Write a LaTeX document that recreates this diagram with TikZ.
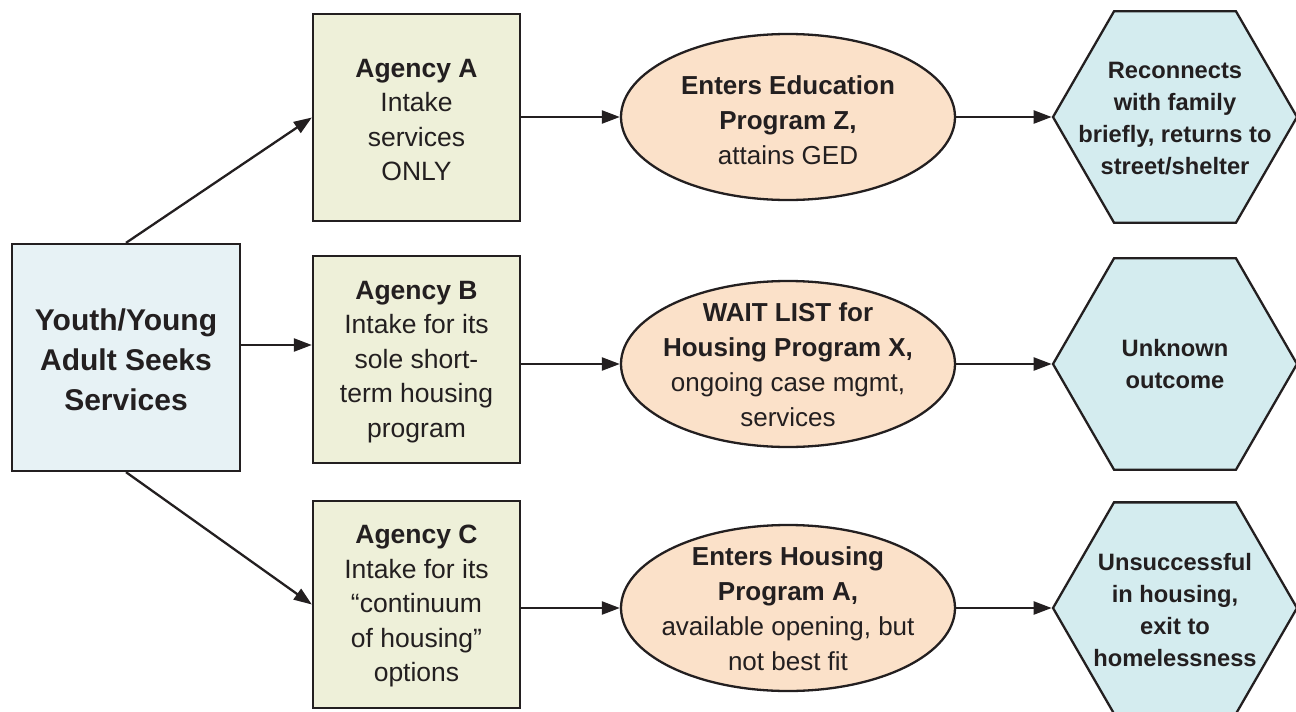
\documentclass[tikz,border=0pt]{standalone}
\usepackage{fontspec}
\setmainfont{Liberation Sans}
\usetikzlibrary{arrows.meta,shapes.geometric}
\definecolor{ink}{HTML}{231F20}
\definecolor{startfill}{HTML}{E7F2F5}
\definecolor{agfill}{HTML}{EEF0D9}
\definecolor{elfill}{HTML}{FBE1C9}
\definecolor{hexfill}{HTML}{D4ECEF}
\tikzset{
  startbox/.style={draw=ink, line width=2.3pt, fill=startfill, minimum width=228pt, minimum height=227pt, inner sep=0pt},
  agbox/.style={draw=ink, line width=2.3pt, fill=agfill, minimum width=207pt, minimum height=207pt, inner sep=0pt},
  progel/.style={ellipse, draw=ink, line width=2.3pt, fill=elfill, minimum width=334pt, minimum height=166pt, inner sep=0pt},
  outhex/.style={regular polygon, regular polygon sides=6, draw=ink, line width=2.3pt, fill=hexfill, minimum size=244pt, inner sep=0pt},
  starttxt/.style={align=center, text=ink, font=\fontsize{30}{40}\selectfont\bfseries},
  agtxt/.style={align=center, text=ink, font=\fontsize{26.5}{34.5}\selectfont},
  eltxt/.style={align=center, text=ink, font=\fontsize{26}{35}\selectfont},
  hextxt/.style={align=center, text=ink, font=\fontsize{23.7}{32}\selectfont\bfseries},
  arr/.style={draw=ink, line width=2.3pt, -{Triangle[length=18pt,width=13pt]}}
}
\begin{document}
\begin{tikzpicture}[x=1pt,y=-1pt]
\useasboundingbox (0,0) rectangle (1296,712);
% start
\node[startbox] (start) at (126,357.5) {};
\node[starttxt] (startt) at (126,360) {Youth/Young\\Adult Seeks\\Services};
% agencies
\node[agbox] (agA) at (416.5,117.5) {};
\node[agtxt] (agAt) at (416.5,120) {\textbf{Agency A}\\Intake\\services\\ONLY};
\node[agbox] (agB) at (416.5,359.5) {};
\node[agtxt] (agBt) at (416.5,362) {\textbf{Agency B}\\Intake for its\\sole short-\\term housing\\program};
\node[agbox] (agC) at (416.5,604.5) {};
\node[agtxt] (agCt) at (416.5,606) {\textbf{Agency C}\\Intake for its\\“continuum\\of housing”\\options};
% programs
\node[progel] (e1) at (788,117) {};
\node[eltxt] (e1t) at (788,120) {\textbf{Enters Education}\\\textbf{Program Z,}\\attains GED};
\node[progel] (e2) at (788,364) {};
\node[eltxt] (e2t) at (788,365) {\textbf{WAIT LIST for}\\\textbf{Housing Program X,}\\ongoing case mgmt,\\services};
\node[progel] (e3) at (788,608) {};
\node[eltxt] (e3t) at (788,609) {\textbf{Enters Housing}\\\textbf{Program A,}\\available opening, but\\not best fit};
% outcomes
\node[outhex] (h1) at (1175,117) {};
\node[hextxt] (h1t) at (1175,119) {Reconnects\\with family\\briefly, returns to\\street/shelter};
\node[outhex] (h2) at (1175,364) {};
\node[hextxt] (h2t) at (1175,364.5) {Unknown\\outcome};
\node[outhex] (h3) at (1175,608) {};
\node[hextxt] (h3t) at (1175,610) {Unsuccessful\\in housing,\\exit to\\homelessness};
% connectors
\draw[arr] (start.north) -- (agA.west);
\draw[arr] (start.east |- 0,345) -- (agB.west |- 0,345);
\draw[arr] (start.south) -- (agC.west);
\draw[arr] (agA.east |- e1.west) -- (e1.west);
\draw[arr] (agB.east |- e2.west) -- (e2.west);
\draw[arr] (agC.east |- e3.west) -- (e3.west);
\draw[arr] (e1.east) -- (h1.west);
\draw[arr] (e2.east) -- (h2.west);
\draw[arr] (e3.east) -- (h3.west);
\end{tikzpicture}
\end{document}
